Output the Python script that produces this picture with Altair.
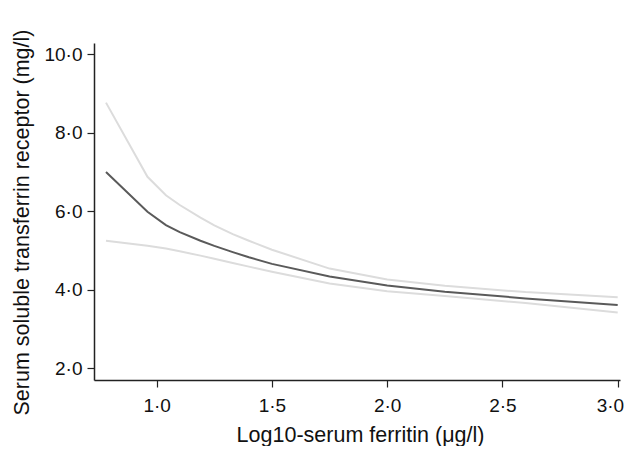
import altair as alt
import pandas as pd

# Log10 serum ferritin (x) and serum sTfR estimates with confidence bounds
log_ferritin = [0.78, 0.96, 1.04, 1.10, 1.19, 1.25, 1.33, 1.40, 1.50, 1.75, 2.00, 2.25, 2.60, 3.00]
stfr_fit =     [7.00, 5.99, 5.65, 5.47, 5.25, 5.12, 4.96, 4.83, 4.66, 4.34, 4.11, 3.95, 3.78, 3.61]
stfr_upper =   [8.77, 6.88, 6.41, 6.16, 5.84, 5.64, 5.42, 5.25, 5.02, 4.54, 4.26, 4.10, 3.94, 3.81]
stfr_lower =   [5.25, 5.12, 5.05, 4.98, 4.87, 4.79, 4.68, 4.59, 4.46, 4.16, 3.96, 3.84, 3.66, 3.42]

x_ticks = [1.0, 1.5, 2.0, 2.5, 3.0]
y_ticks = [2.0, 4.0, 6.0, 8.0, 10.0]

df = pd.DataFrame({
    "x": log_ferritin,
    "fit": stfr_fit,
    "upper": stfr_upper,
    "lower": stfr_lower,
})

FONT = "Liberation Sans"
dot_label = "replace(format(datum.value, '.1f'), '.', '\u00b7')"

common = dict(
    grid=False,
    domainColor="#222222",
    domainWidth=1.5,
    tickColor="#222222",
    tickWidth=1.2,
    tickSize=7,
    labelFont=FONT,
    labelFontSize=19,
    labelColor="#111111",
    titleFont=FONT,
    titleFontSize=21.5,
    titleFontWeight="normal",
    titleColor="#111111",
    titleAlign="center",
    titleBaseline="alphabetic",
)

x_axis = alt.Axis(
    values=x_ticks,
    labelExpr=dot_label,
    title="Log10-serum ferritin (\u03bcg/l)",
    labelPadding=9,
    labelAlign={"condition": {"test": "datum.value >= 3", "value": "right"}, "value": "center"},
    labelOffset={"condition": {"test": "datum.value >= 3", "value": 6}, "value": 0},
    titleX=266,
    titleY=61,
    **common,
)

y_axis = alt.Axis(
    values=y_ticks,
    labelExpr=dot_label,
    title="Serum soluble transferrin receptor (mg/l)",
    labelPadding=5,
    titleX=-66,
    titleY=179,
    titleAngle=270,
    **common,
)

x_scale = alt.Scale(domain=[0.728, 3.01], nice=False, zero=False)
y_scale = alt.Scale(domain=[1.7, 10.29], nice=False, zero=False)

def layer(field, color):
    return alt.Chart(df).mark_line(color=color, strokeWidth=2).encode(
        x=alt.X("x:Q", scale=x_scale, axis=x_axis),
        y=alt.Y(f"{field}:Q", scale=y_scale, axis=y_axis),
    )

chart = (
    alt.layer(layer("upper", "#dcdcdc"), layer("lower", "#dcdcdc"), layer("fit", "#5a5a5a"))
    .properties(
        width=526,
        height=337,
        autosize=alt.AutoSizeParams(type="none"),
        padding={"left": 86, "top": 35, "right": 4, "bottom": 66},
        background="white",
    )
    .configure_view(stroke=None)
)

chart.save("out.html", embed_options={"renderer": "svg", "actions": False})
